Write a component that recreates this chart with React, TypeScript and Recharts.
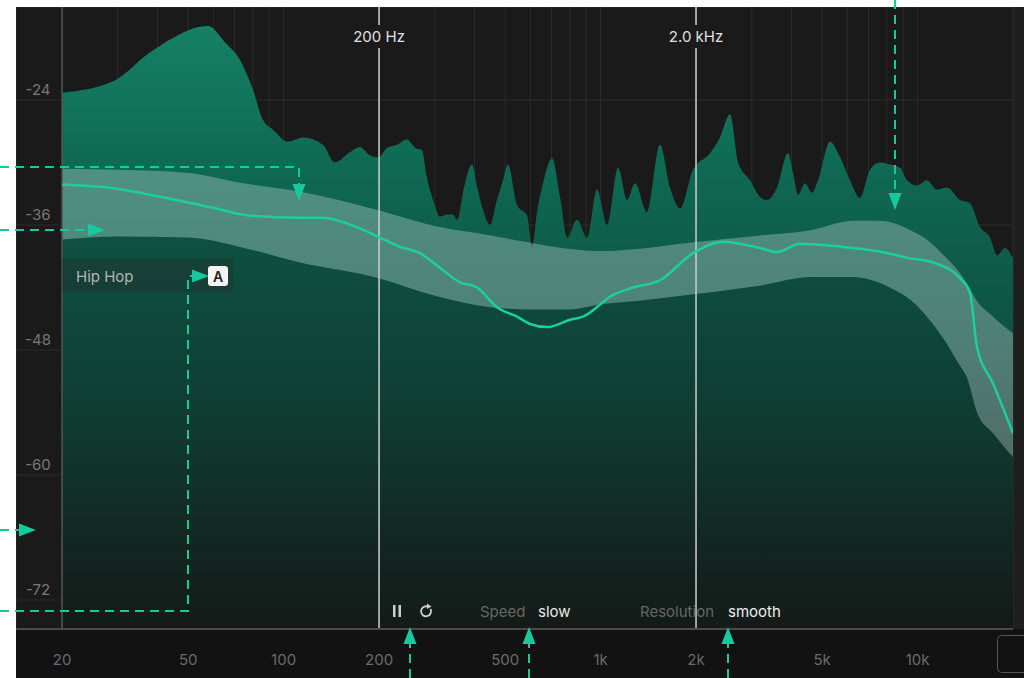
import React from "react";
import {
  ComposedChart,
  Area,
  Line,
  XAxis,
  YAxis,
  CartesianGrid,
  ReferenceLine,
} from "recharts";

// spectrum (Hz / dB)
const spectrumFreq = [
  20, 29, 38, 45, 51, 58, 65, 73, 80, 86, 93, 103, 109, 115, 133, 145, 162, 174,
  187, 199, 212, 228, 245, 260, 273, 283, 300, 311, 328, 342, 353, 368, 393, 408,
  426, 448, 471, 492, 510, 545, 586, 608, 630, 658, 703, 745, 784, 843, 906, 974,
  1048, 1135, 1212, 1284, 1401, 1540, 1656, 1781, 1957, 2214, 2380, 2560, 2714,
  2960, 3184, 3350, 3602, 3902, 4046, 4196, 4414, 4644, 4852, 5294, 5694, 6120,
  6582, 7078, 7610, 8186, 8800, 9260, 9960, 10710, 11516, 12384, 13612, 14634,
  15736, 16922, 17806, 18872, 20000,
];
const spectrumDb = [
  -23.3, -22.2, -19.4, -18.0, -17.2, -16.9, -18.4, -20.2, -23.0, -25.9, -26.9,
  -28.0, -27.8, -27.6, -28.3, -30.0, -29.0, -28.5, -29.3, -29.5, -28.6, -28.3,
  -27.8, -28.6, -28.8, -31.4, -34.1, -35.2, -35.0, -35.0, -35.5, -32.9, -30.2,
  -32.4, -34.6, -36.0, -33.6, -31.7, -30.2, -34.1, -35.1, -38.1, -34.8, -32.0,
  -29.6, -33.3, -37.2, -35.5, -37.2, -32.6, -36.0, -30.5, -33.6, -32.0, -34.8,
  -28.3, -32.4, -34.4, -30.7, -29.1, -27.6, -25.4, -30.0, -31.7, -33.3, -33.6,
  -32.4, -29.1, -31.0, -33.1, -32.0, -32.9, -31.7, -28.0, -29.5, -31.7, -33.4,
  -30.7, -30.0, -30.2, -30.5, -31.7, -32.2, -31.7, -32.6, -32.4, -33.6, -33.9,
  -36.2, -37.2, -38.9, -38.2, -39.2,
];

// target range band
const bandFreq = [
  20, 30, 50, 75, 113, 200, 300, 450, 600, 800, 1000, 1300, 1900, 3200, 4600,
  6300, 7500, 8400, 9500, 10700, 12000, 13600, 14300, 15400, 17300, 20000,
];
const bandUpper = [
  -30.6, -30.7, -31.0, -32.0, -32.8, -34.6, -36.1, -37.0, -37.7, -38.3, -38.5,
  -38.3, -37.7, -37.0, -36.5, -35.6, -35.6, -35.8, -36.5, -37.4, -38.8, -40.6,
  -41.6, -43.3, -44.8, -46.4,
];
const bandLower = [
  -37.4, -37.1, -37.2, -38.2, -39.6, -41.1, -42.8, -43.9, -44.1, -44.1, -43.6,
  -43.3, -42.7, -41.8, -41.0, -41.0, -41.5, -42.2, -43.2, -44.8, -46.8, -49.5,
  -50.6, -54.0, -56.0, -58.3,
];

// smoothed average curve
const curveFreq = [
  20, 28, 41, 59, 78, 113, 133, 170, 201, 233, 269, 311, 360, 408, 471, 545, 599,
  678, 801, 880, 1095, 1266, 1540, 1957, 2433, 3184, 3602, 4258, 5818, 7448,
  9466, 11184, 13612, 14634, 15396, 17296, 20000,
];
const curveDb = [
  -32.1, -32.4, -33.3, -34.3, -35.1, -35.3, -35.3, -36.2, -37.2, -38.1, -38.7,
  -40.1, -41.5, -42.0, -43.9, -44.8, -45.5, -45.8, -45.1, -44.8, -42.7, -42.0,
  -41.3, -38.7, -37.6, -38.2, -38.6, -37.8, -38.1, -38.5, -39.2, -39.6, -41.1,
  -42.5, -47.7, -51.2, -56.0,
];

const gridFreqs = [
  20, 30, 40, 50, 60, 70, 80, 90, 100, 200, 300, 400, 500, 600, 700, 800, 900,
  1000, 2000, 3000, 4000, 5000, 6000, 7000, 8000, 9000, 10000, 20000,
];
const xTickValues = [20, 50, 100, 200, 500, 1000, 2000, 5000, 10000];
const xTickLabels = ["20", "50", "100", "200", "500", "1k", "2k", "5k", "10k"];
const yTicks = [-72, -60, -48, -36, -24];

const FONT = "Inter, 'Noto Sans', sans-serif";
const ARROW = "#18c99d";

const spectrum = spectrumFreq.map((f, i) => ({ f, db: spectrumDb[i] }));
const band = bandFreq.map((f, i) => ({
  f,
  range: [bandLower[i], bandUpper[i]],
  lower: bandLower[i],
}));
const curve = curveFreq.map((f, i) => ({ f, db: curveDb[i] }));

function XTick(props: any) {
  const { x, payload } = props;
  const idx = xTickValues.indexOf(payload.value);
  if (idx < 0) return <g />;
  return (
    <text
      x={x}
      y={659}
      textAnchor="middle"
      dominantBaseline="central"
      fill="#6b6b6b"
      fontSize={15}
      fontFamily={FONT}
    >
      {xTickLabels[idx]}
    </text>
  );
}

function YTick(props: any) {
  const { y, payload } = props;
  return (
    <text
      x={38}
      y={y - 11}
      textAnchor="middle"
      dominantBaseline="central"
      fill="#777"
      fontSize={15}
      fontFamily={FONT}
    >
      {payload.value}
    </text>
  );
}

function TopTag(props: any) {
  const x = props.viewBox?.x ?? 0;
  return (
    <g>
      <rect x={x - 34} y={25} width={68} height={23} fill="#1a1a1a" />
      <text
        x={x}
        y={36}
        textAnchor="middle"
        dominantBaseline="central"
        fill="#e0e0e0"
        fontSize={15}
        fontFamily={FONT}
      >
        {props.text}
      </text>
    </g>
  );
}

function Head({ x, y, dir }: { x: number; y: number; dir: string }) {
  const pts =
    dir === "down"
      ? `${x - 6.5},${y - 17} ${x + 6.5},${y - 17} ${x},${y}`
      : dir === "up"
      ? `${x - 6.5},${y + 17} ${x + 6.5},${y + 17} ${x},${y}`
      : `${x - 17},${y - 6.5} ${x - 17},${y + 6.5} ${x},${y}`;
  return <polygon points={pts} fill={ARROW} />;
}

function Dash({ d }: { d: string }) {
  return (
    <path d={d} fill="none" stroke={ARROW} strokeWidth={2} strokeDasharray="9 6" />
  );
}

export default function App() {
  return (
    <div
      style={{
        position: "absolute",
        left: 0,
        top: 0,
        width: 1024,
        height: 678,
        background: "#fff",
        overflow: "hidden",
        fontFamily: FONT,
      }}
    >
      {/* panel backgrounds */}
      <div style={{ position: "absolute", left: 16, top: 7, width: 1008, height: 622, background: "#1a1a1a" }} />
      <div style={{ position: "absolute", left: 16, top: 629, width: 1008, height: 49, background: "#121212" }} />
      <div style={{ position: "absolute", left: 1013, top: 7, width: 11, height: 622, background: "#1f1f1f" }} />

      <div style={{ position: "absolute", left: 0, top: 0 }}>
        <ComposedChart
          width={1024}
          height={678}
          margin={{ top: 7, right: 11, bottom: 0, left: 15 }}
        >
          <defs>
            <linearGradient id="spec" gradientUnits="userSpaceOnUse" x1="0" y1="0" x2="0" y2="678">
              <stop offset="0.03" stopColor="#168165" />
              <stop offset="0.221" stopColor="#0f6c55" />
              <stop offset="0.369" stopColor="#0e5d4a" />
              <stop offset="0.472" stopColor="#0e5445" />
              <stop offset="0.619" stopColor="#0f4036" />
              <stop offset="0.928" stopColor="#141c19" />
            </linearGradient>
            <linearGradient id="low" gradientUnits="userSpaceOnUse" x1="0" y1="0" x2="0" y2="678">
              <stop offset="0.339" stopColor="#0f5142" />
              <stop offset="0.442" stopColor="#0e4a3d" />
              <stop offset="0.59" stopColor="#0f3e33" />
              <stop offset="0.737" stopColor="#112e27" />
              <stop offset="0.855" stopColor="#13211d" />
              <stop offset="0.928" stopColor="#141a17" />
            </linearGradient>
          </defs>

          <XAxis
            type="number"
            dataKey="f"
            scale="log"
            domain={[14.31, 20000]}
            allowDataOverflow
            ticks={gridFreqs}
            interval={0}
            height={49}
            tick={<XTick />}
            tickLine={false}
            axisLine={{ stroke: "#4a4a4a", strokeWidth: 2 }}
          />
          <YAxis
            type="number"
            domain={[-74.78, -15.07]}
            allowDataOverflow
            ticks={yTicks}
            interval={0}
            width={1}
            tick={<YTick />}
            tickLine={false}
            axisLine={false}
          />

          <Area
            data={spectrum}
            dataKey="db"
            type="monotone"
            baseValue="dataMin"
            stroke="none"
            fill="url(#spec)"
            fillOpacity={1}
            isAnimationActive={false}
          />
          <Area
            data={band}
            dataKey="lower"
            type="monotone"
            baseValue="dataMin"
            stroke="none"
            fill="url(#low)"
            fillOpacity={1}
            isAnimationActive={false}
          />
          <Area
            data={band}
            dataKey="range"
            type="monotone"
            stroke="none"
            fill="#ffffff"
            fillOpacity={0.27}
            isAnimationActive={false}
          />

          <CartesianGrid stroke="rgba(255,255,255,0.08)" />

          <ReferenceLine x={20} stroke="#555" strokeWidth={1.5} />
          <ReferenceLine x={200} stroke="#cfcfcf" strokeWidth={1.5} label={<TopTag text="200 Hz" />} />
          <ReferenceLine x={2000} stroke="#cfcfcf" strokeWidth={1.5} label={<TopTag text="2.0 kHz" />} />

          <Line
            data={curve}
            dataKey="db"
            type="monotone"
            stroke="#1ccf9f"
            strokeWidth={2.5}
            dot={false}
            activeDot={false}
            isAnimationActive={false}
          />
        </ComposedChart>
      </div>

      {/* overlay: preset tag, transport controls, callout arrows */}
      <svg
        width={1024}
        height={678}
        style={{ position: "absolute", left: 0, top: 0, pointerEvents: "none" }}
      >
        <rect x={62} y={258} width={171} height={34} fill="rgba(40,40,40,0.35)" />
        <text x={76} y={276} dominantBaseline="central" fill="#b4b4b4" fontSize={15} fontFamily={FONT}>
          Hip Hop
        </text>

        <rect x={393} y={605} width={2.5} height={12} fill="#cfcfcf" />
        <rect x={398.5} y={605} width={2.5} height={12} fill="#cfcfcf" />
        <path d="M430.5 609 A5 5 0 1 1 428 606.7" fill="none" stroke="#cfcfcf" strokeWidth={1.8} />
        <polygon points="427,603.5 431.5,606.5 427,609" fill="#cfcfcf" />
        <text x={480} y={611} dominantBaseline="central" fill="#666" fontSize={15} fontFamily={FONT}>Speed</text>
        <text x={538} y={611} dominantBaseline="central" fill="#e8e8e8" fontSize={15} fontFamily={FONT}>slow</text>
        <text x={640} y={611} dominantBaseline="central" fill="#666" fontSize={15} fontFamily={FONT}>Resolution</text>
        <text x={728} y={611} dominantBaseline="central" fill="#eeeeee" fontSize={15} fontFamily={FONT}>smooth</text>

        <rect x={997.5} y={635.5} width={40} height={37} rx={4} fill="none" stroke="#555" />

        <Dash d="M0 167 H299 V184" />
        <Head x={299} y={201} dir="down" />
        <Dash d="M0 230 H88" />
        <Head x={105} y={230} dir="right" />
        <Dash d="M0 530 H19" />
        <Head x={36} y={530} dir="right" />
        <Dash d="M0 611 H188 V276 H193" />
        <Head x={209} y={276} dir="right" />
        <Dash d="M895 0 V193" />
        <Head x={895} y={210} dir="down" />
        <Dash d="M410 678 V644" />
        <Head x={410} y={627} dir="up" />
        <Dash d="M529 678 V644" />
        <Head x={529} y={627} dir="up" />
        <Dash d="M728 678 V644" />
        <Head x={728} y={627} dir="up" />

        <rect x={208} y={266} width={20} height={20} rx={3} fill="#f4f4f4" />
        <text x={218} y={276.5} textAnchor="middle" dominantBaseline="central" fill="#222" fontSize={14} fontWeight={600} fontFamily={FONT}>
          A
        </text>
      </svg>
    </div>
  );
}
